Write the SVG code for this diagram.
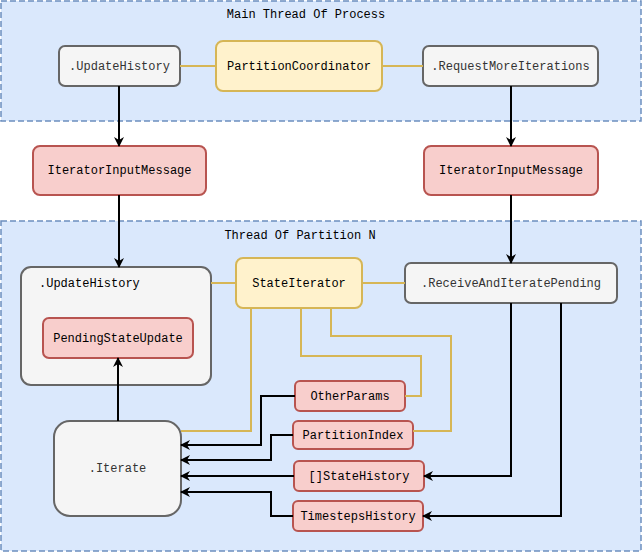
<svg xmlns="http://www.w3.org/2000/svg" width="642" height="552" viewBox="0 0 642 552">
<defs>
<marker id="arr" viewBox="0 0 10 10" refX="9" refY="5" markerWidth="10" markerHeight="10" markerUnits="userSpaceOnUse" orient="auto">
<path d="M0,0 L10,5 L0,10 L3,5 Z" fill="#000"/>
</marker>
<style>
.cont{fill:#dae8fc;stroke:#6c8ebf;stroke-width:1.5;stroke-dasharray:6,3}
.gray{fill:#f5f5f5;stroke:#666666;stroke-width:2}
.yel{fill:#fff2cc;stroke:#d6b656;stroke-width:2}
.red{fill:#f8cecc;stroke:#b85450;stroke-width:2}
text{font-family:"Liberation Mono","DejaVu Sans Mono",monospace;font-size:12px;fill:#000}
.gt{fill:#333333}
.c{text-anchor:middle;dominant-baseline:central}
.bl{fill:none;stroke:#000;stroke-width:2}
.yl{fill:none;stroke:#d6b656;stroke-width:2}
</style>
</defs>
<g id="containers">
<rect class="cont" x="1" y="1" width="640" height="120"/>
<text class="c" x="306" y="15">Main Thread Of Process</text>
<rect class="cont" x="1" y="221" width="640" height="330"/>
<text class="c" x="300" y="236">Thread Of Partition N</text>
</g>
<g id="updateHistoryMain"><rect class="gray" x="59" y="46" width="121" height="40" rx="6"/><text class="c gt" x="119.5" y="66.5">.UpdateHistory</text></g>
<g id="partitionCoordinator"><rect class="yel" x="216" y="41" width="166" height="50" rx="7"/><text class="c" x="299" y="66.5">PartitionCoordinator</text></g>
<g id="requestMoreIterations"><rect class="gray" x="423" y="46" width="175" height="40" rx="6"/><text class="c gt" x="510.5" y="66.5">.RequestMoreIterations</text></g>
<g id="iimLeft"><rect class="red" x="33" y="146" width="173" height="49" rx="7"/><text class="c" x="119.5" y="171">IteratorInputMessage</text></g>
<g id="iimRight"><rect class="red" x="424" y="146" width="174" height="49" rx="7"/><text class="c" x="511" y="171">IteratorInputMessage</text></g>
<g id="updateHistoryThread"><rect class="gray" x="21" y="267" width="190" height="118" rx="10"/><text x="39" y="287">.UpdateHistory</text></g>
<g id="pendingStateUpdate"><rect class="red" x="43" y="318" width="150" height="40" rx="6"/><text class="c" x="118" y="338.5">PendingStateUpdate</text></g>
<g id="stateIterator"><rect class="yel" x="236" y="258" width="126" height="50" rx="7"/><text class="c" x="299" y="283.5">StateIterator</text></g>
<g id="receiveAndIteratePending"><rect class="gray" x="405" y="263" width="212" height="40" rx="6"/><text class="c gt" x="511" y="283.5">.ReceiveAndIteratePending</text></g>
<g id="iterate"><rect class="gray" x="54" y="421" width="127" height="95" rx="16"/><text class="c gt" x="117.5" y="469">.Iterate</text></g>
<g id="otherParams"><rect class="red" x="295" y="381" width="110" height="30" rx="5"/><text class="c" x="350" y="396.5">OtherParams</text></g>
<g id="partitionIndex"><rect class="red" x="293" y="421" width="120" height="28" rx="5"/><text class="c" x="353" y="435.5">PartitionIndex</text></g>
<g id="stateHistory"><rect class="red" x="294" y="461" width="130" height="30" rx="5"/><text class="c" x="359" y="476.5">[]StateHistory</text></g>
<g id="timestepsHistory"><rect class="red" x="293" y="501" width="130" height="30" rx="5"/><text class="c" x="358" y="516.5">TimestepsHistory</text></g>
<g id="connectors">
<path class="yl" d="M180,66 H216 M382,66 H423"/>
<path class="yl" d="M211,283 H236 M362,283 H405"/>
<path class="yl" d="M251,308 V431 H181"/>
<path class="yl" d="M301,308 V356 H421 V396 H405"/>
<path class="yl" d="M331,308 V336 H451 V431 H413"/>
<path class="bl" d="M119,86 V146" marker-end="url(#arr)"/>
<path class="bl" d="M511,86 V146" marker-end="url(#arr)"/>
<path class="bl" d="M119,195 V267" marker-end="url(#arr)"/>
<path class="bl" d="M511,195 V263" marker-end="url(#arr)"/>
<path class="bl" d="M118,421 V358" marker-end="url(#arr)"/>
<path class="bl" d="M295,396 H261 V445 H181" marker-end="url(#arr)"/>
<path class="bl" d="M293,435 H271 V460 H181" marker-end="url(#arr)"/>
<path class="bl" d="M294,476 H181" marker-end="url(#arr)"/>
<path class="bl" d="M293,516 H271 V492 H181" marker-end="url(#arr)"/>
<path class="bl" d="M511,303 V476 H424" marker-end="url(#arr)"/>
<path class="bl" d="M561,303 V516 H423" marker-end="url(#arr)"/>
</g>
</svg>
